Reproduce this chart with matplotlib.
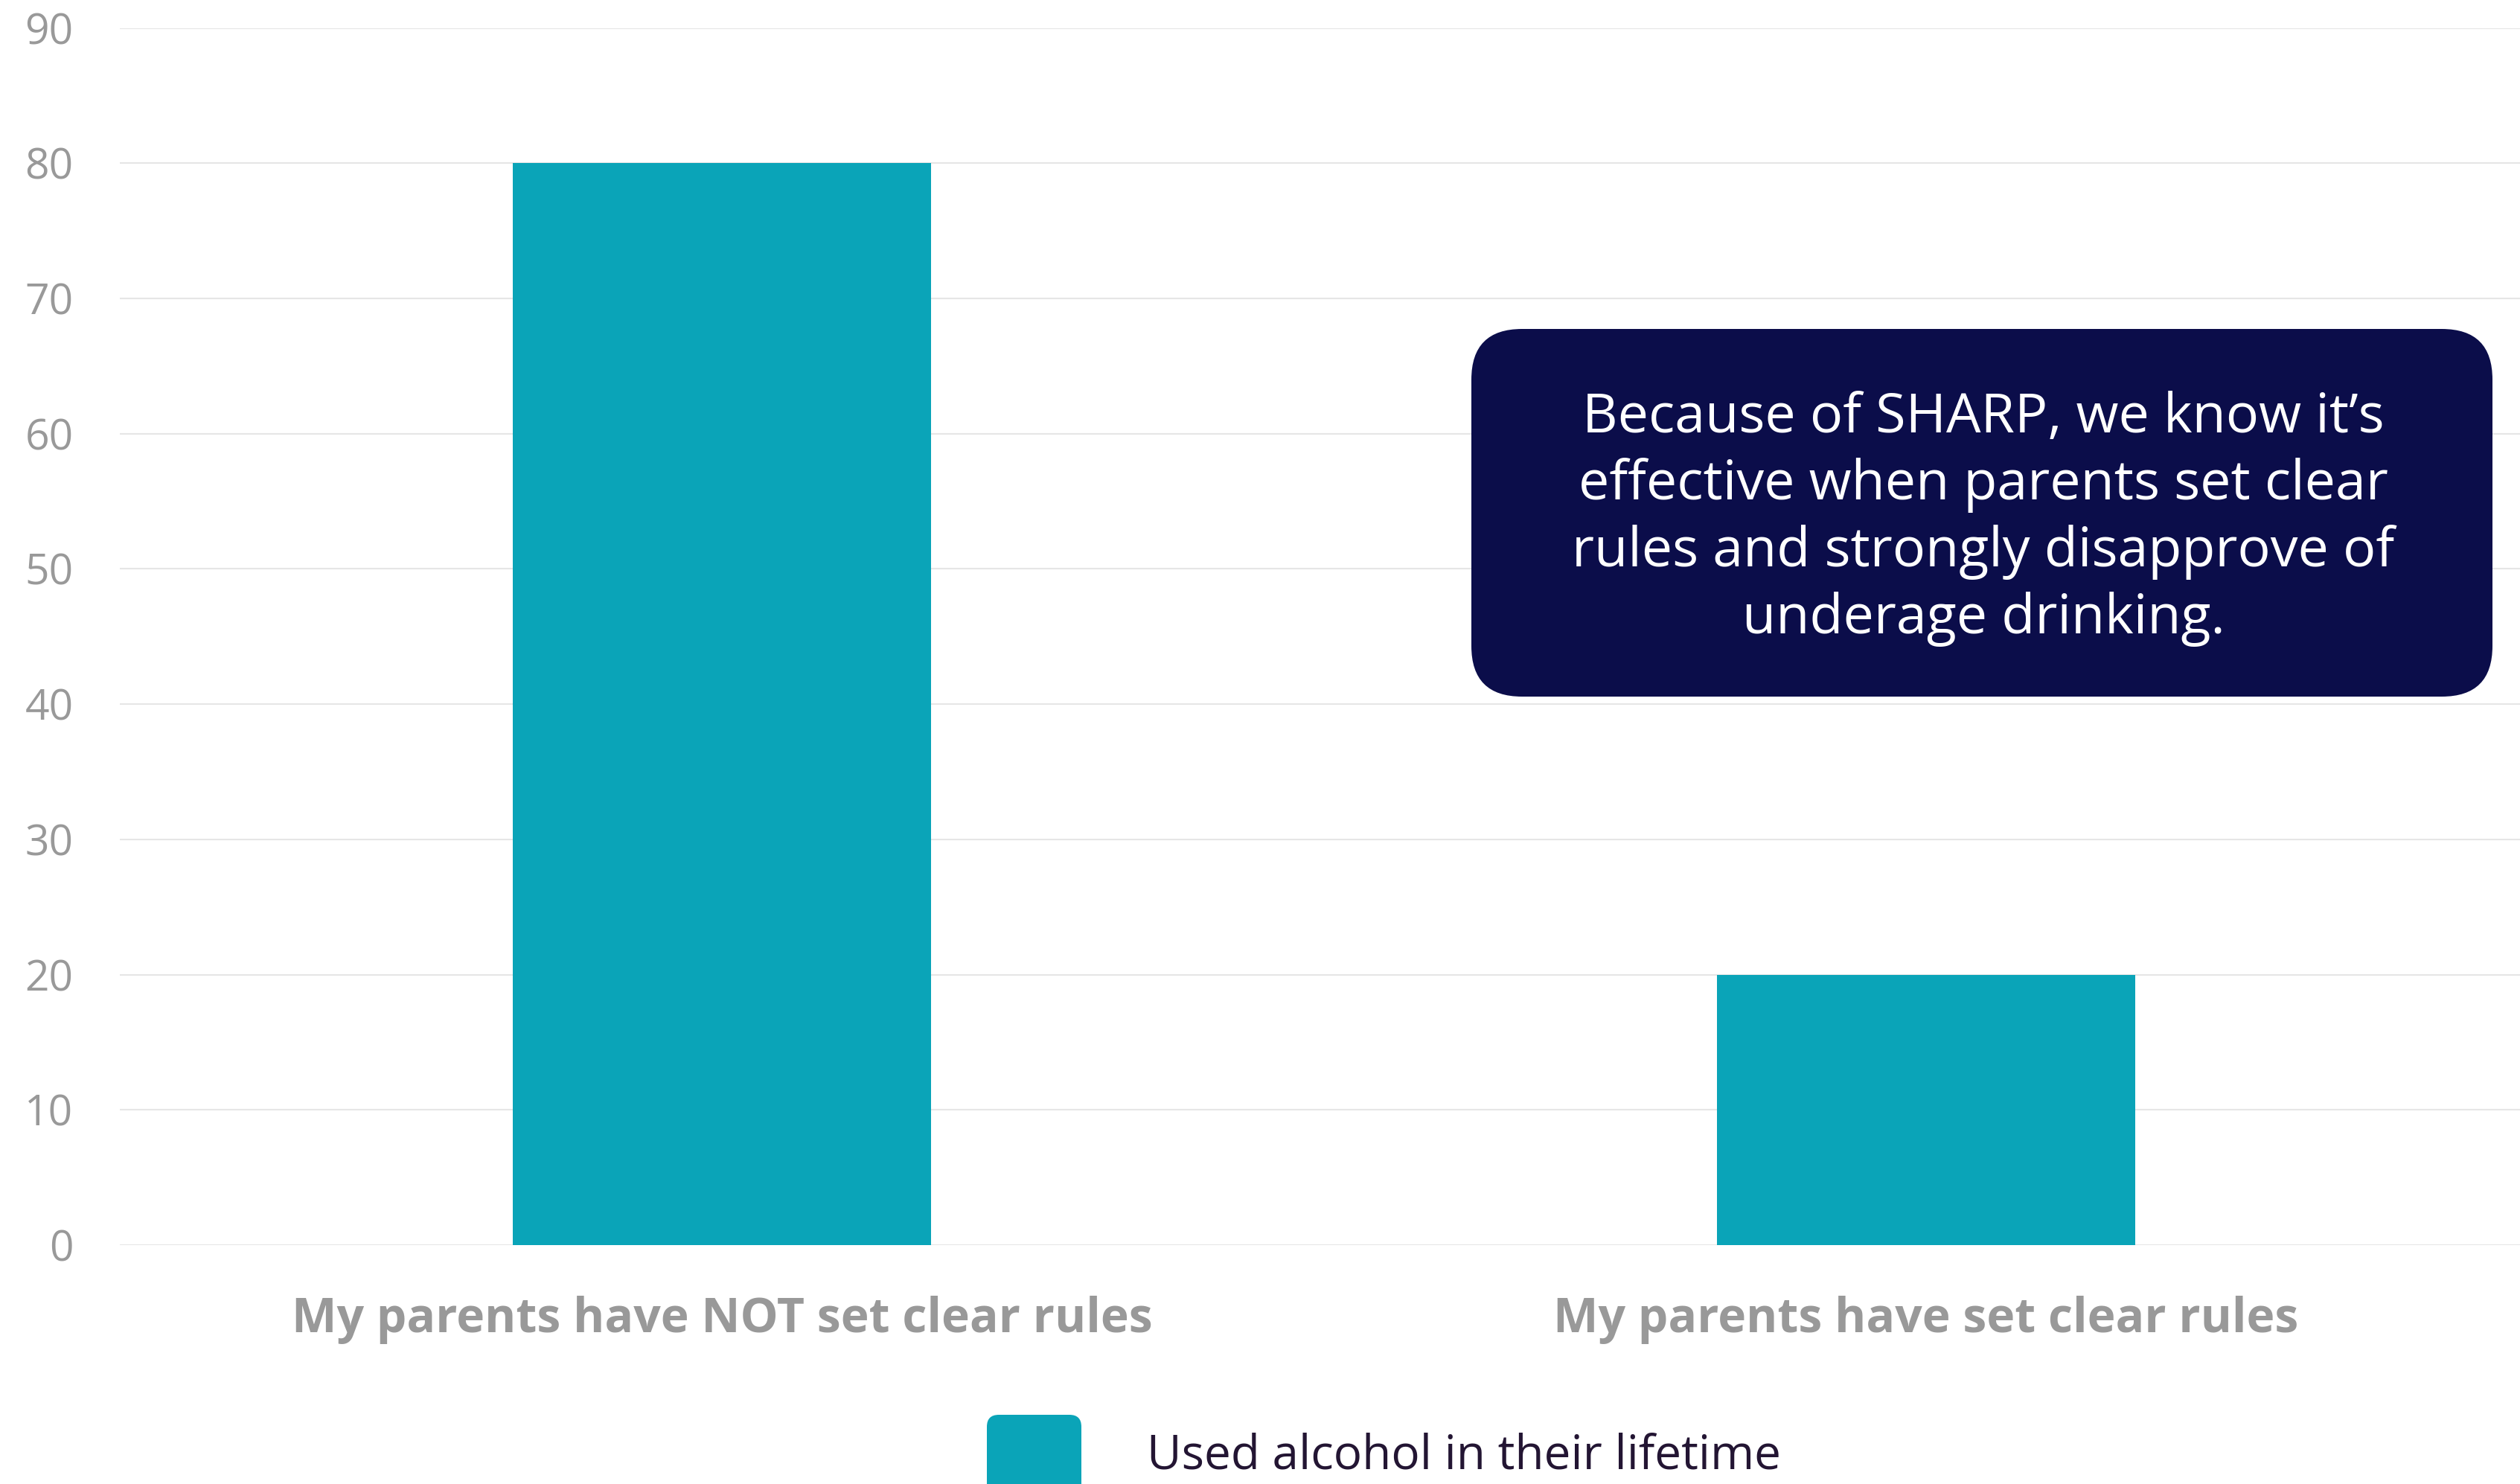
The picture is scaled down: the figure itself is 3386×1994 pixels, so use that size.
import matplotlib
matplotlib.use('Agg')
import matplotlib.pyplot as plt
from matplotlib.patches import FancyBboxPatch
from matplotlib.transforms import IdentityTransform

# data
categories = ['My parents have NOT set clear rules', 'My parents have set clear rules']
used_alcohol = [80, 20]
series_name = 'Used alcohol in their lifetime'
yticks = [0, 10, 20, 30, 40, 50, 60, 70, 80, 90]
note = ("Because of SHARP, we know it\u2019s\n"
        "effective when parents set clear\n"
        "rules and strongly disapprove of\n"
        "underage drinking.")

teal = '#0aa4b8'
navy = '#0b0d4a'
grey = '#999999'

plt.rcParams['font.family'] = ['Open Sans', 'DejaVu Sans']

W, H = 3386, 1994
fig = plt.figure(figsize=(W / 100, H / 100), dpi=100)
ax = fig.add_axes([161 / W, 1 - 1673 / H, 3236 / W, (1673 - 37.7) / H])

xs = range(len(categories))
ax.bar(xs, used_alcohol, width=0.347, color=teal, zorder=2)

ax.set_xlim(-0.5, 1.5)
ax.set_ylim(0, 90)
ax.set_yticks(yticks)
ax.set_yticklabels([str(t) for t in yticks])
ax.set_xticks(list(xs))
ax.set_xticklabels(categories, fontweight='bold')

ax.tick_params(axis='y', length=0, pad=45, labelsize=41, labelcolor=grey)
ax.tick_params(axis='x', length=0, pad=49, labelsize=46.3, labelcolor=grey)

ax.grid(axis='y', color='#e6e6e6', linewidth=1.5, zorder=0)
ax.set_axisbelow(True)
for s in ax.spines.values():
    s.set_visible(False)

# callout box
box = FancyBboxPatch((1977, H - 936), 1372, 494,
                     boxstyle='round,pad=0,rounding_size=68',
                     transform=IdentityTransform(), facecolor=navy,
                     edgecolor='none', zorder=5)
fig.patches.append(box)
fig.text(2665 / W, 1 - 697 / H, note, color='white', fontsize=53,
         ha='center', va='center', linespacing=1.28, zorder=6)

# legend
leg = FancyBboxPatch((1326, H - 2028), 127, 127,
                     boxstyle='round,pad=0,rounding_size=16',
                     transform=IdentityTransform(), facecolor=teal,
                     edgecolor='none', zorder=5)
fig.patches.append(leg)
fig.text(1541 / W, 1 - 1956 / H, series_name, color='#231533',
         fontsize=46, ha='left', va='center')

fig.savefig('out.png', dpi=100, facecolor='white')
